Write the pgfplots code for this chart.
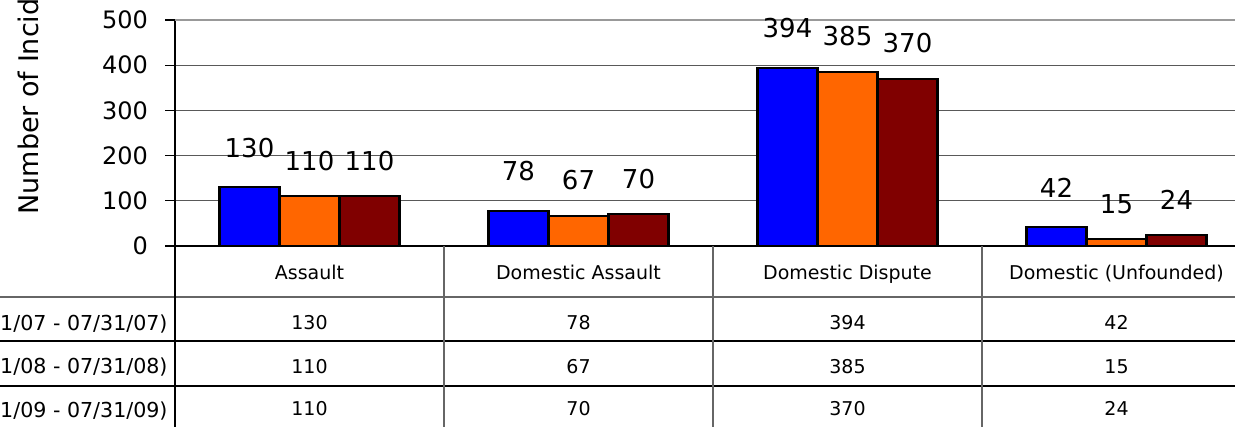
\documentclass[border=0pt]{standalone}
\usepackage{fontspec}
\setmainfont{DejaVu Sans}
\usepackage{pgfplots}
\usepackage{pgfplotstable}
\pgfplotsset{compat=1.18}
\definecolor{sblue}{RGB}{0,0,255}
\definecolor{sorange}{RGB}{255,102,0}
\definecolor{sred}{RGB}{128,0,0}
\pgfplotstableread{
x a b c
0 130 110 110
1 78 67 70
2 394 385 370
3 42 15 24
}\data
\begin{document}
\begin{tikzpicture}
\useasboundingbox (0,0) rectangle (617.5pt,-213.5pt);
\clip (0,0) rectangle (617.5pt,-213.5pt);
\begin{axis}[
  at={(87.5pt,-123pt)}, anchor=south west,
  scale only axis, width=538pt, height=113pt,
  xmin=-0.5, xmax=3.5, ymin=0, ymax=500,
  xtick={0,1,2,3},
  xticklabels={Assault,Domestic Assault,Domestic Dispute,Domestic (Unfounded)},
  x tick style={draw=none},
  xticklabel style={anchor=base, yshift=-12pt, font=\fontsize{9.5}{9.5}\selectfont},
  ytick={0,100,200,300,400}, extra y ticks={500},
  ymajorgrids, grid style={black!65, line width=0.5pt},
  extra y tick style={grid style={gray!80, line width=1.2pt}},
  axis x line*=bottom, axis y line*=left,
  axis line style={black, line width=0.7pt},
  tick align=outside, major tick length=5pt,
  y tick style={black, line width=0.6pt},
  /pgf/number format/assume math mode=true,
  yticklabel style={font=\fontsize{12}{12}\selectfont, xshift=-5pt},
  clip=false,
]
\addplot[ybar, bar width=0.223, bar shift=-0.223, fill=sblue, draw=black, line width=1.1pt,
  nodes near coords, nodes near coords style={font=\fontsize{13}{13}\selectfont, yshift=11pt, xshift=-30pt}]
  table[x=x,y=a]{\data};
\addplot[ybar, bar width=0.223, bar shift=0, fill=sorange, draw=black, line width=1.1pt,
  nodes near coords, nodes near coords style={font=\fontsize{13}{13}\selectfont, yshift=9pt}]
  table[x=x,y=b]{\data};
\addplot[ybar, bar width=0.223, bar shift=0.223, fill=sred, draw=black, line width=1.1pt,
  nodes near coords, nodes near coords style={font=\fontsize{13}{13}\selectfont, yshift=9pt, xshift=30pt}]
  table[x=x,y=c]{\data};
% data table values
\addplot[draw=none, mark=none, nodes near coords, point meta=explicit,
  nodes near coords style={anchor=base, font=\fontsize{9.5}{9.5}\selectfont}]
  table[x=x, y expr=-185.8, meta=a]{\data};
\addplot[draw=none, mark=none, nodes near coords, point meta=explicit,
  nodes near coords style={anchor=base, font=\fontsize{9.5}{9.5}\selectfont}]
  table[x=x, y expr=-281.0, meta=b]{\data};
\addplot[draw=none, mark=none, nodes near coords, point meta=explicit,
  nodes near coords style={anchor=base, font=\fontsize{9.5}{9.5}\selectfont}]
  table[x=x, y expr=-376.1, meta=c]{\data};
\end{axis}
% table grid
\draw[black!60, line width=0.6pt] (0,-148.5pt) -- (625.5pt,-148.5pt);
\draw[black, line width=0.6pt] (0,-170.5pt) -- (625.5pt,-170.5pt);
\draw[black, line width=0.6pt] (0,-193pt) -- (625.5pt,-193pt);
\draw[black, line width=0.7pt] (87.5pt,-123pt) -- (87.5pt,-214pt);
\draw[black!60, line width=0.6pt] (222pt,-123pt) -- (222pt,-214pt);
\draw[black!60, line width=0.6pt] (356.5pt,-123pt) -- (356.5pt,-214pt);
\draw[black!60, line width=0.6pt] (491pt,-123pt) -- (491pt,-214pt);
% row labels
\node[anchor=base east, inner sep=0pt, font=\fontsize{10.3}{10.3}\selectfont] at (84pt,-165pt) {(07/01/07 - 07/31/07)};
\node[anchor=base east, inner sep=0pt, font=\fontsize{10.3}{10.3}\selectfont] at (84pt,-186.75pt) {(07/01/08 - 07/31/08)};
\node[anchor=base east, inner sep=0pt, font=\fontsize{10.3}{10.3}\selectfont] at (84pt,-208.5pt) {(07/01/09 - 07/31/09)};
% y label
\node[rotate=90, anchor=base west, inner sep=0pt, font=\fontsize{13.5}{13.5}\selectfont] at (19pt,-107.5pt) {Number of Incidents};
\end{tikzpicture}
\end{document}
